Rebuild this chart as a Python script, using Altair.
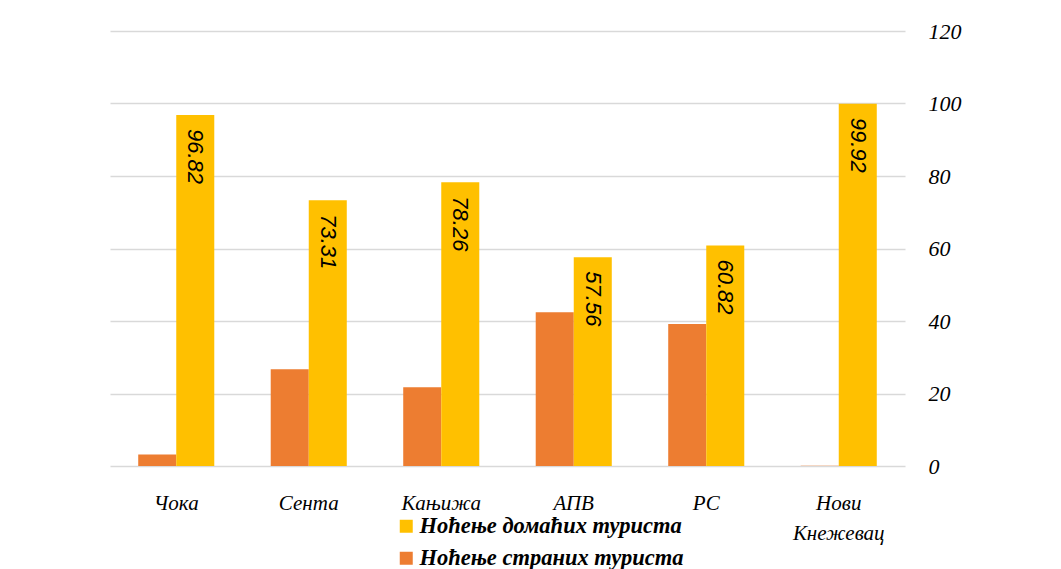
import altair as alt
import pandas as pd

categories = ["Чока", "Сента", "Кањижа", "АПВ", "РС", "Нови Кнежевац"]
domestic = [96.82, 73.31, 78.26, 57.56, 60.82, 99.92]
foreign = [3.18, 26.69, 21.74, 42.44, 39.18, 0.08]
series = ["Ноћење домаћих туриста", "Ноћење страних туриста"]
colors = ["#FFC000", "#ED7D31"]

rows = []
for c, d, f in zip(categories, domestic, foreign):
    rows.append({"cat": c, "series": series[1], "value": f, "order": 0})
    rows.append({"cat": c, "series": series[0], "value": d, "order": 1})
df = pd.DataFrame(rows)

x = alt.X("cat:N", sort=categories, title=None,
          scale=alt.Scale(paddingInner=0.426, paddingOuter=0.213),
          axis=alt.Axis(labelAngle=0, labelFont="Liberation Serif", labelFontStyle="italic",
                        labelFontSize=21, labelColor="#000000", labelPadding=37,
                        ticks=False, domain=False, grid=False,
                        labelExpr="split(datum.label, ' ')", labelLineHeight=30,
                        labelBaseline="middle"))
xo = alt.XOffset("series:N", sort=[series[1], series[0]], scale=alt.Scale(paddingInner=0, paddingOuter=0))

bars = alt.Chart(df).mark_bar().encode(
    x=x,
    xOffset=xo,
    y=alt.Y("value:Q", title=None,
            scale=alt.Scale(domain=[0, 120]),
            axis=alt.Axis(orient="right", values=[0, 20, 40, 60, 80, 100, 120],
                          labelFont="Liberation Serif", labelFontStyle="italic",
                          labelFontSize=22, labelColor="#000000", labelPadding=23,
                          labelAlign="left", ticks=False, domain=False,
                          grid=True, gridColor="#d9d9d9", gridWidth=1.5)),
    color=alt.Color("series:N", scale=alt.Scale(domain=series, range=colors),
                    legend=alt.Legend(title=None, orient="none", legendX=285, legendY=484,
                                      direction="vertical", symbolType="square",
                                      symbolSize=169, symbolStrokeWidth=0,
                                      labelFont="Liberation Serif", labelFontStyle="italic",
                                      labelFontWeight="bold", labelFontSize=22.5,
                                      labelColor="#000000", rowPadding=9, labelLimit=400,
                                      labelOffset=2)),
)

labels = alt.Chart(df[df["series"] == series[0]]).mark_text(
    angle=90, align="left", baseline="middle", dx=14,
    font="Liberation Sans", fontStyle="italic", fontSize=22, color="#000000"
).encode(
    x=alt.X("cat:N", sort=categories),
    xOffset=xo,
    y="value:Q",
    text=alt.Text("value:Q", format=".2f"),
)

chart = alt.layer(bars, labels).resolve_scale(xOffset="shared").properties(
    width=795, height=435,
    autosize=alt.AutoSizeParams(type="none"),
    padding={"left": 102, "top": 23, "right": 148, "bottom": 103},
).configure_view(stroke=None)

chart.save("out.html", embed_options={"renderer": "svg", "actions": False})
